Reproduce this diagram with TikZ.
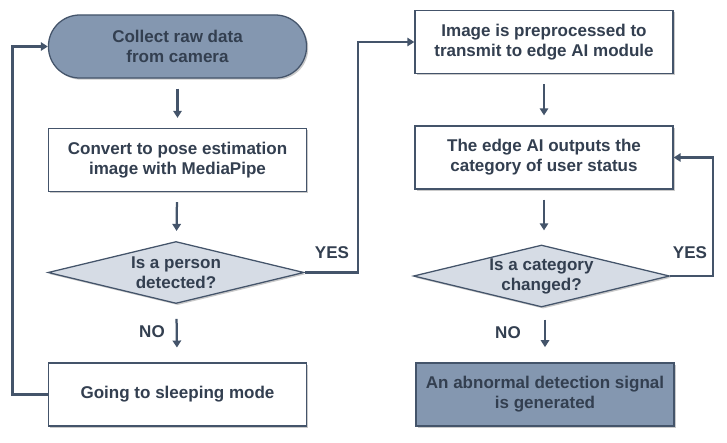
\documentclass[tikz,border=0pt]{standalone}
\usepackage{fontspec}
\setmainfont{Liberation Sans}
\usetikzlibrary{shapes.geometric, shadows, arrows.meta}
\definecolor{slate}{HTML}{44546A}
\definecolor{slatemid}{HTML}{8497B0}
\definecolor{slatelight}{HTML}{D6DCE5}
\definecolor{slatetext}{HTML}{333F50}

\begin{document}
\begin{tikzpicture}[x=0.025cm, y=-0.025cm,
	every node/.style={font=\fontsize{12.1}{14.2}\selectfont\bfseries, text=slatetext, align=center},
	softshadow/.style={drop shadow={shadow xshift=1.2pt, shadow yshift=-1.2pt, opacity=0.35, fill=black!60}},
	box/.style={draw=slate, line width=0.9pt, fill=white, minimum width=6.45cm, minimum height=1.575cm, softshadow},
	terminal/.style={box, fill=slatemid, rounded corners=0.78cm},
	decision/.style={diamond, draw=slate, line width=0.9pt, fill=slatelight, inner sep=0pt, shape aspect=4, minimum width=6.4cm, minimum height=1.55cm, softshadow},
	flow/.style={-{Triangle[width=6pt,length=5pt]}, draw=slate, line width=1.6pt, shorten <=0.25cm, shorten >=0.25cm},
	loop/.style={-{Triangle[width=6pt,length=5pt]}, draw=slate, line width=1.6pt}]
	
	\useasboundingbox (0,0) rectangle (727,442);
	
	% left column
	\node[terminal] (collect) at (177.5,46.5) {Collect raw data\\from camera};
	\node[box] (convert) at (177.5,160) {Convert to pose estimation\\image with MediaPipe};
	\node[decision] (detect) at (176,272.5) {Is a person\\detected?};
	\node[box] (sleep) at (177.5,394.5) {Going to sleeping mode};
	
	% right column
	\node[box] (prep) at (544,42) {Image is preprocessed to\\transmit to edge AI module};
	\node[box] (edgeai) at (544,157.5) {The edge AI outputs the\\category of user status};
	\node[decision] (changed) at (541.5,276) {Is a category\\changed?};
	\node[box, fill=slatemid] (abnormal) at (545,394.5) {An abnormal detection signal\\is generated};
	
	% answers
	\node (yesa) at (332,253) {YES};
	\node (noa) at (152,332) {NO};
	\node (yesb) at (690,253) {YES};
	\node (nob) at (508,333) {NO};
	
	% corners of the loops
	\coordinate (backleft) at (12.5,394.5);
	\coordinate (yesturn) at (358,272.5);
	\coordinate (backright) at (713,276);
	
	% straight arrows
	\draw[flow] (collect) -- (convert);
	\draw[flow] (convert) -- (detect);
	\draw[flow, shorten <=0.37cm, shorten >=0.37cm] (detect) -- (sleep);
	\draw[flow] (prep) -- (edgeai);
	\draw[flow, shorten >=0.35cm] (edgeai) -- (changed.north -| edgeai.south);
	\draw[flow, shorten <=0.3cm, shorten >=0.38cm] (changed.south -| abnormal.north) -- (abnormal);
	
	% loops
	\draw[loop] (sleep.west) -- (backleft) |- (collect.west);
	\draw[loop] (detect.east) -- (yesturn) |- (prep.west);
	\draw[loop] (changed.east) -- (backright) |- (edgeai.east);
	
\end{tikzpicture}
\end{document}
